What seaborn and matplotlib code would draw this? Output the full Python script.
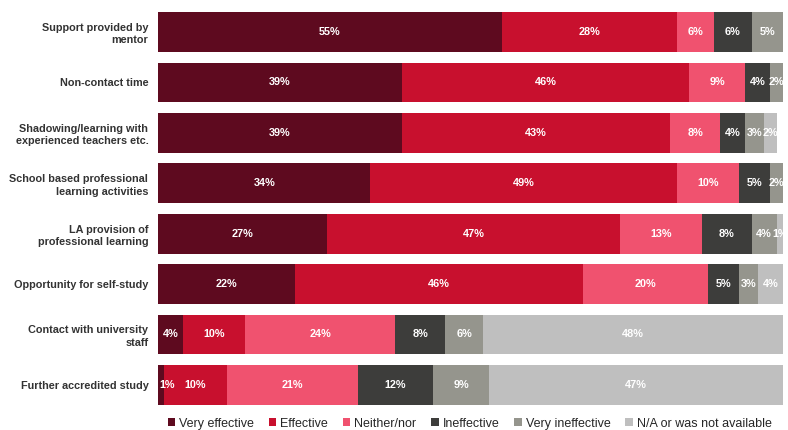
import numpy as np
import pandas as pd
import seaborn as sns
import matplotlib.pyplot as plt

# Survey items (top to bottom)
items = [
    "Support provided by\nmentor",
    "Non-contact time",
    "Shadowing/learning with\nexperienced teachers etc.",
    "School based professional\nlearning activities",
    "LA provision of\nprofessional learning",
    "Opportunity for self-study",
    "Contact with university\nstaff",
    "Further accredited study",
]

# Percent of responses per rating
very_effective = [55, 39, 39, 34, 27, 22, 4, 1]
effective = [28, 46, 43, 49, 47, 46, 10, 10]
neither_nor = [6, 9, 8, 10, 13, 20, 24, 21]
ineffective = [6, 4, 4, 5, 8, 5, 8, 12]
very_ineffective = [5, 2, 3, 2, 4, 3, 6, 9]
not_available = [0, 0, 2, 0, 1, 4, 48, 47]

ratings = ["Very effective", "Effective", "Neither/nor", "Ineffective",
           "Very ineffective", "N/A or was not available"]
colors = ["#5E0A1F", "#C8102E", "#F0526F", "#3D3D3B", "#95958D", "#BFBFBF"]

df = pd.DataFrame({
    "item": items,
    "Very effective": very_effective,
    "Effective": effective,
    "Neither/nor": neither_nor,
    "Ineffective": ineffective,
    "Very ineffective": very_ineffective,
    "N/A or was not available": not_available,
})

sns.set_theme(style="white")
plt.rcParams["font.family"] = ["Liberation Sans", "DejaVu Sans"]

fig = plt.figure(figsize=(7.88, 4.30), dpi=100)
ax = fig.add_axes([0.2005, 0.0465, 0.793, 0.9375])

ypos = np.arange(len(items))
left = np.zeros(len(items))
for rating, col in zip(ratings, colors):
    vals = df[rating].to_numpy(dtype=float)
    ax.barh(ypos, vals, left=left, height=0.79, color=col, label=rating,
            edgecolor="none")
    for y, l, v in zip(ypos, left, vals):
        if v <= 0:
            continue
        # very thin first segment: keep the label inside the chart
        if v < 2 and l == 0:
            ax.text(l + 0.3, y, f"{int(v)}%", ha="left", va="center",
                    color="white", fontsize=7.8, fontweight="bold")
        else:
            ax.text(l + v / 2, y, f"{int(v)}%", ha="center", va="center",
                    color="white", fontsize=7.8, fontweight="bold")
    left += vals

ax.set_xlim(0, 100)
ax.set_ylim(len(items) - 0.5, -0.5)
ax.set_yticks(ypos)
ax.set_yticklabels(df["item"], fontsize=7.8, fontweight="bold", color="#333333",
                   linespacing=1.3)
ax.tick_params(axis="y", length=0, pad=7)
ax.set_xticks([])
sns.despine(ax=ax, left=True, bottom=True)

handles, labels = ax.get_legend_handles_labels()
fig.legend(handles, labels, loc="center", bbox_to_anchor=(0.596, 0.015),
           ncol=6, frameon=False, fontsize=9, handlelength=0.6,
           handleheight=0.6, handletextpad=0.3, columnspacing=1.2,
           borderpad=0.1)

fig.savefig("out.png", dpi=100)
